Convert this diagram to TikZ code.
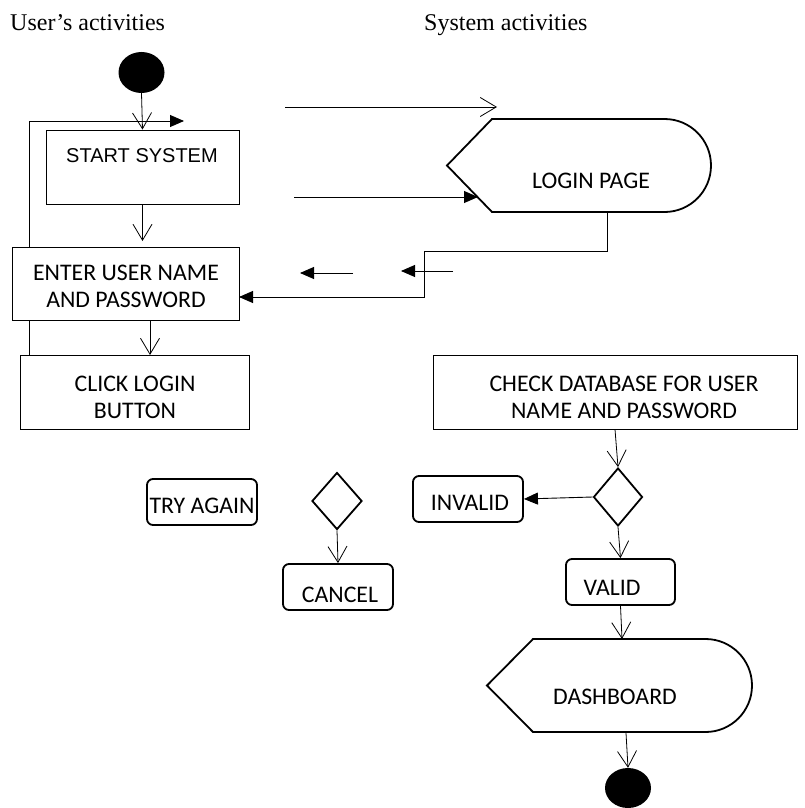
\documentclass[tikz,border=0pt]{standalone}
\usepackage{fontspec}
\setmainfont{Liberation Serif}
\newfontfamily\calfont{Carlito}
\newfontfamily\arialfont{Liberation Sans}
\usetikzlibrary{shapes.geometric,arrows.meta}
\begin{document}
\begin{tikzpicture}[x=1pt,y=-1pt,
  box/.style={draw,line width=0.9pt,fill=white,inner sep=0pt},
  rbox/.style={draw,line width=1.8pt,rounded corners=6pt,fill=white,inner sep=0pt},
  dec/.style={draw,diamond,line width=1.8pt,inner sep=0pt,fill=white},
  dot/.style={ellipse,fill=black,inner sep=0pt},
  shp/.style={line width=1.8pt},
  txt/.style={font=\calfont\fontsize{23.8}{27}\selectfont,inner sep=0pt,align=center},
  ttl/.style={font=\fontsize{24}{28}\selectfont,inner sep=0pt,anchor=base west},
  openarr/.style={line width=0.8pt,-{Straight Barb[length=16pt,width=19pt,line width=0.8pt]}},
  fillarr/.style={line width=0.9pt,-{Triangle[length=14pt,width=12pt]}}
]
\useasboundingbox (0,0) rectangle (805,808);

% titles
\node[ttl] (t1) at (10,31) {User’s activities};
\node[ttl] (t2) at (424,31) {System activities};

% loop line (behind boxes)
\coordinate (loopstart) at (29,355);
\coordinate (loopbend) at (29,121);
\coordinate (looptip) at (184,121);
\draw[fillarr] (loopstart) -- (loopbend) -- (looptip);

% start
\node[dot,minimum width=46pt,minimum height=41pt] (start) at (141.5,72.5) {};

% user boxes
\node[box,minimum width=193pt,minimum height=74pt] (startsys) at (142.5,167) {};
\node[font=\arialfont\fontsize{20}{24}\selectfont,inner sep=0pt] (startsystxt) at (142,156) {START SYSTEM};

\node[box,minimum width=227pt,minimum height=73pt] (enter) at (125.5,283.5) {};
\node[txt] (entertxt) at (126,286) {ENTER USER NAME\\AND PASSWORD};

\node[box,minimum width=229pt,minimum height=74pt] (click) at (134.5,392) {};
\node[txt] (clicktxt) at (135,397) {CLICK LOGIN\\BUTTON};

% arrows user side
\draw[openarr] (start.south) -- (startsys.north);
\draw[openarr] (startsys.south) -- (startsys.south |- 0,241);
\coordinate (entbot) at (150,320);
\coordinate (clicktop) at (150,355);
\draw[openarr] (entbot) -- (clicktop);

% login page shape
\draw[shp,fill=white] (447,165.5) -- (492,119) -- (664.5,119)
  arc[start angle=90,end angle=-90,radius=46.5pt] -- (492,212) -- cycle;
\node[txt] (login) at (591,181) {LOGIN PAGE};

% arrows between columns
\coordinate (a1) at (285,107);
\coordinate (a2) at (497,107);
\draw[openarr] (a1) -- (a2);
\coordinate (b1) at (294,197);
\coordinate (b2) at (478,197);
\draw[fillarr] (b1) -- (b2);
\coordinate (lout) at (607,212);
\coordinate (lret) at (239,297);
\draw[fillarr] (lout) -- (607,251) -- (424,251) -- (424,297) -- (lret);
\coordinate (c1) at (353,273);
\coordinate (c2) at (300,273);
\draw[fillarr] (c1) -- (c2);
\coordinate (d1) at (453,271);
\coordinate (d2) at (401,271);
\draw[fillarr] (d1) -- (d2);

% system side
\node[box,minimum width=364pt,minimum height=74pt] (check) at (615,392) {};
\node[txt] (checktxt) at (624,397) {CHECK DATABASE FOR USER\\NAME AND PASSWORD};

\node[dec,minimum width=49pt,minimum height=58pt] (dia2) at (618,497) {};
\node[rbox,minimum width=110pt,minimum height=46pt] (invalid) at (468,499) {};
\node[txt] (invalidtxt) at (470,503) {INVALID};
\node[rbox,minimum width=109pt,minimum height=46pt] (valid) at (620.5,582) {};
\node[txt] (validtxt) at (612,588) {VALID};

\draw[openarr] (check.south) -- (dia2.north);
\draw[fillarr] (dia2.west) -- (invalid.east);
\draw[openarr] (dia2.south) -- (valid.north);

% dashboard shape
\draw[shp,fill=white] (487,685.5) -- (533,639) -- (705.5,639)
  arc[start angle=90,end angle=-90,radius=46.5pt] -- (533,732) -- cycle;
\node[txt] (dash) at (615,697) {DASHBOARD};
\coordinate (dtop) at (622,639);
\coordinate (dbot) at (626,733);
\draw[openarr] (valid.south) -- (dtop);

\node[dot,minimum width=46pt,minimum height=40pt] (end) at (628,788) {};
\draw[openarr] (dbot) -- (end.north);

% try again / cancel
\node[rbox,minimum width=110pt,minimum height=46pt] (try) at (202,502) {};
\node[txt] (trytxt) at (202,506) {TRY AGAIN};
\node[dec,minimum width=50pt,minimum height=57pt] (dia1) at (337,501) {};
\node[rbox,minimum width=110pt,minimum height=46pt] (cancel) at (338,587) {};
\node[txt] (canceltxt) at (340,595) {CANCEL};
\draw[openarr] (dia1.south) -- (cancel.north);
\end{tikzpicture}
\end{document}
